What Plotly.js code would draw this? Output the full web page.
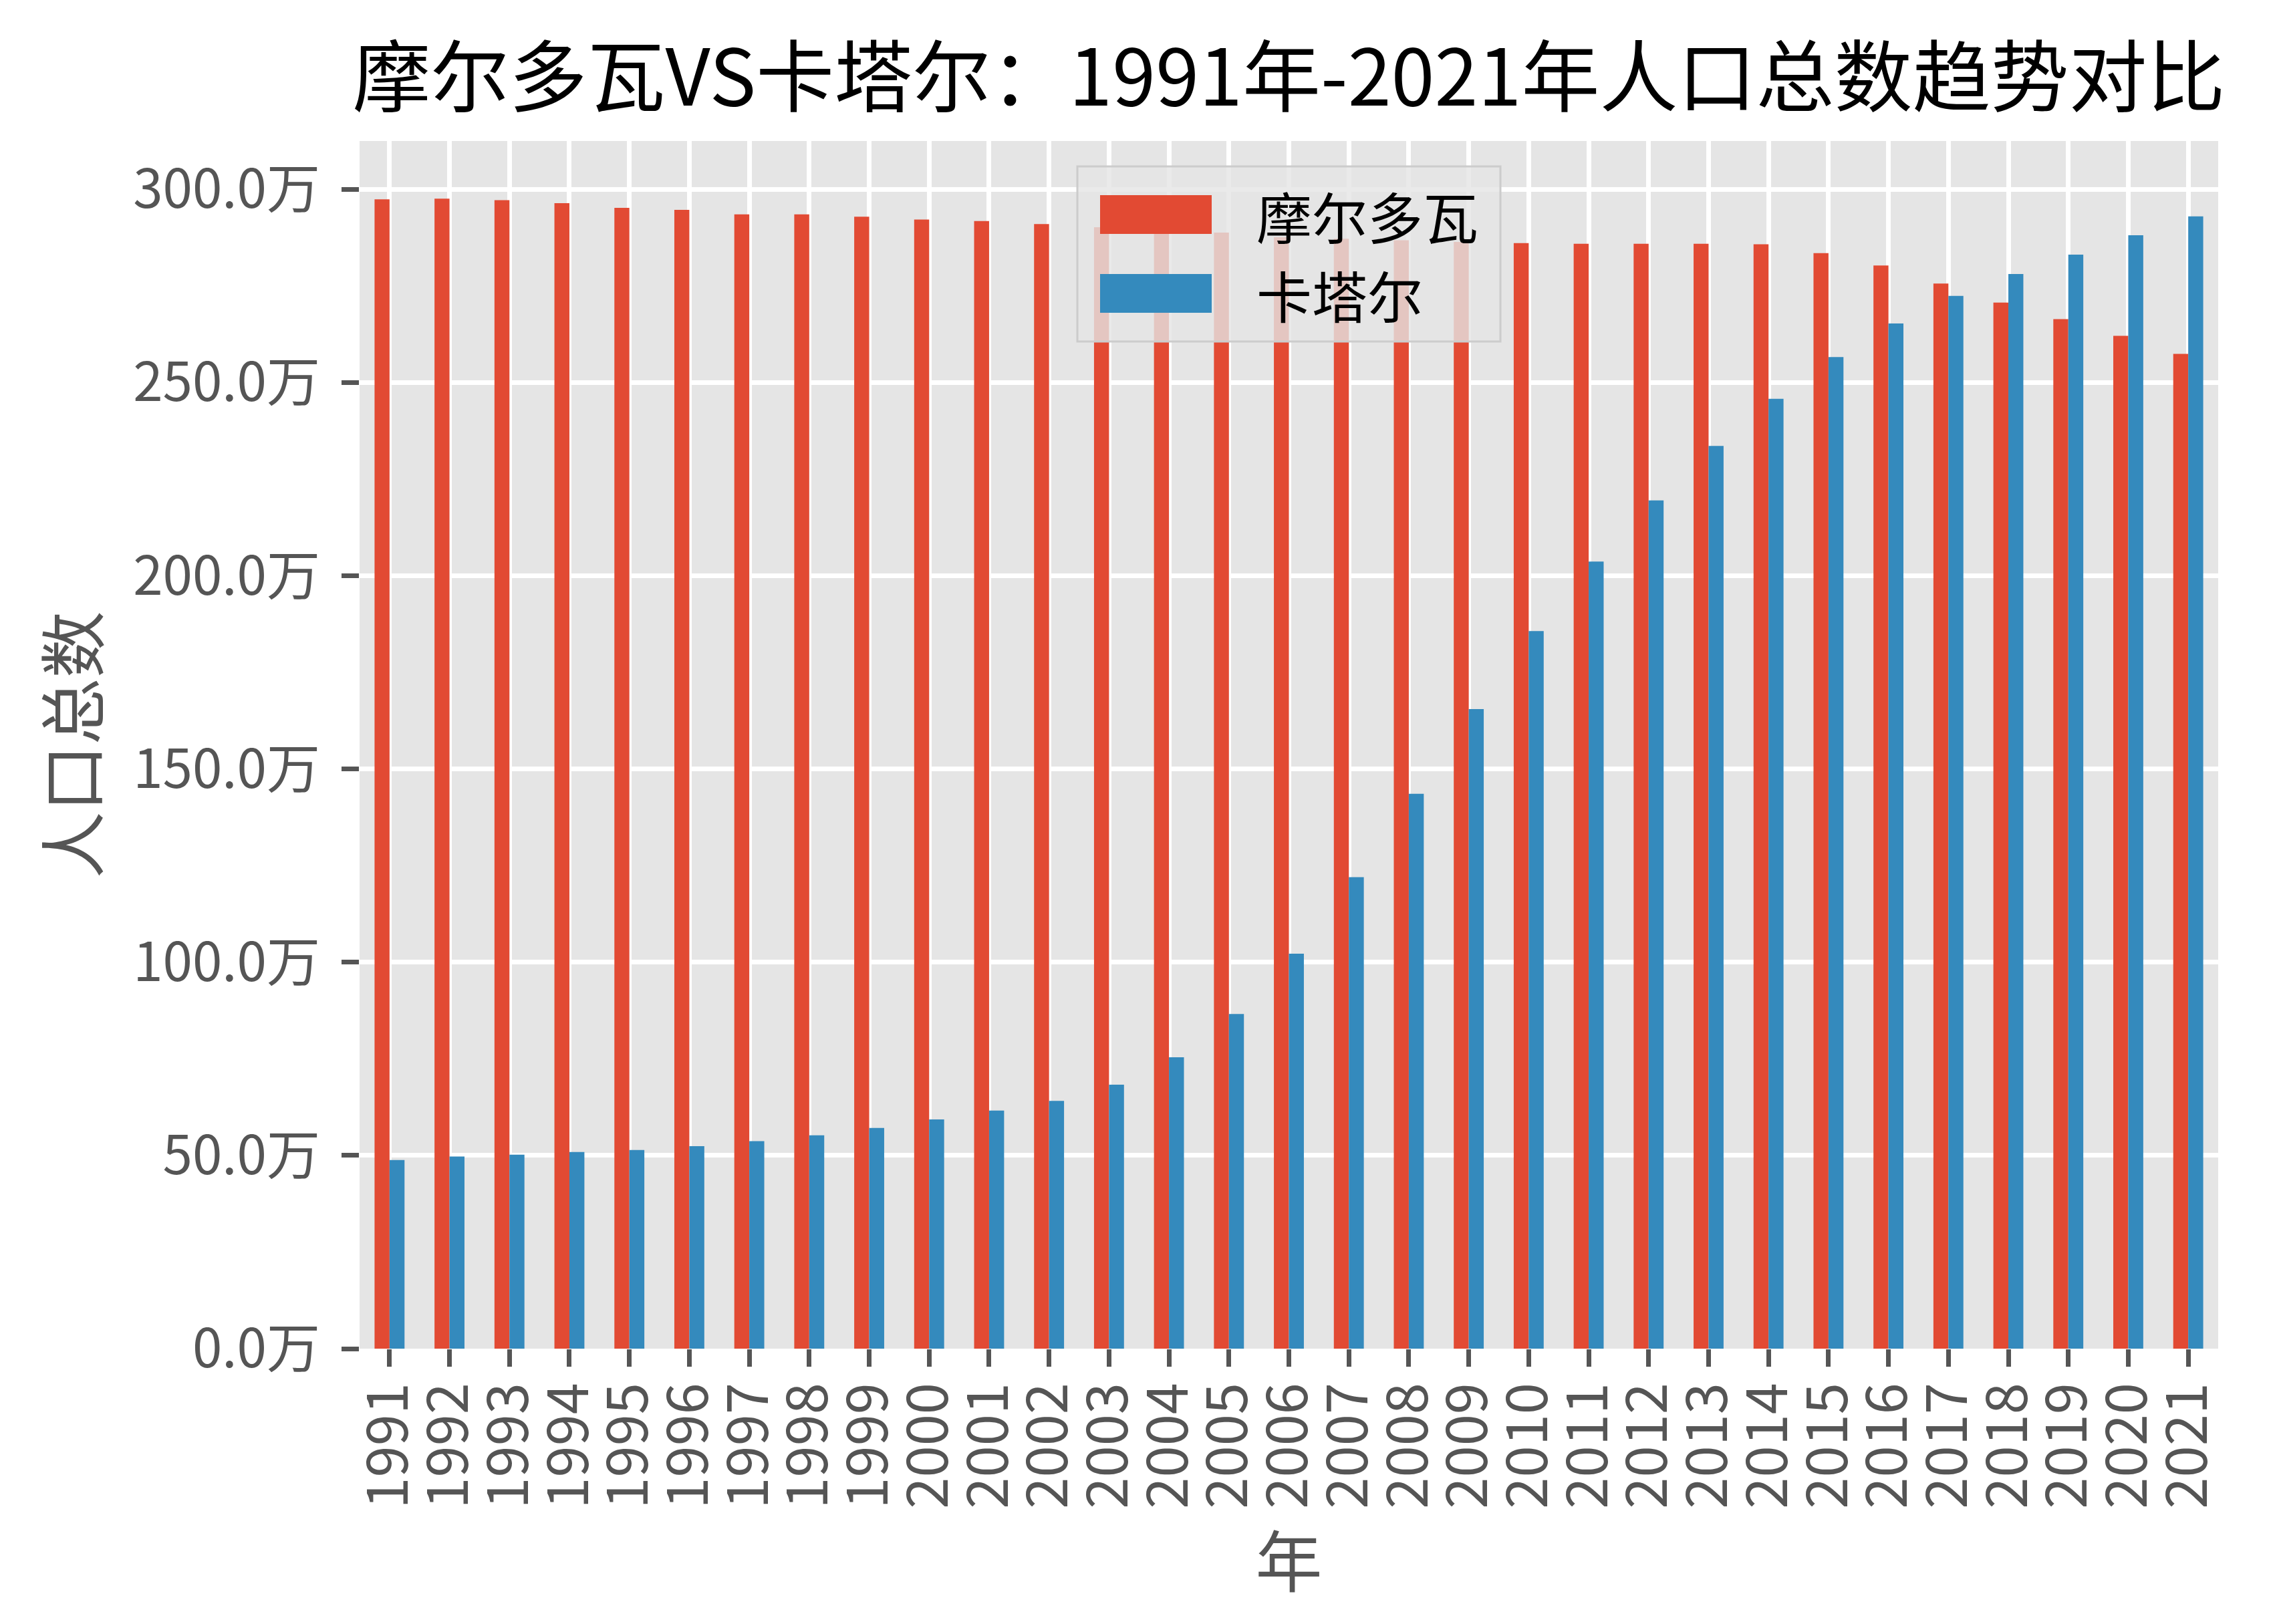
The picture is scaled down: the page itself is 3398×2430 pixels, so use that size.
<!DOCTYPE html>
<html>
<head>
<meta charset="utf-8">
<script src="https://cdn.plot.ly/plotly-3.0.1.min.js"></script>
<style>html,body{margin:0;padding:0;background:#fff;}#chart{width:3398px;height:2430px;}</style>
</head>
<body>
<div id="chart"></div>
<script>
// ---- data (values in 万) ----
const years = ['1991','1992','1993','1994','1995','1996','1997','1998','1999','2000',
  '2001','2002','2003','2004','2005','2006','2007','2008','2009','2010',
  '2011','2012','2013','2014','2015','2016','2017','2018','2019','2020','2021'];
const seriesNames = ['摩尔多瓦', '卡塔尔'];
const moldova = [297.4, 297.6, 297.2, 296.4, 295.2, 294.7, 293.5, 293.5, 292.9, 292.2,
  291.8, 291.0, 290.2, 289.5, 288.8, 287.6, 287.2, 286.8, 286.4, 286.1,
  285.9, 285.9, 285.9, 285.8, 283.5, 280.3, 275.6, 270.7, 266.4, 262.1, 257.4];
const qatar = [48.8, 49.7, 50.2, 50.9, 51.4, 52.4, 53.7, 55.2, 57.1, 59.3,
  61.6, 64.1, 68.3, 75.4, 86.6, 102.2, 122.0, 143.6, 165.5, 185.7,
  203.7, 219.5, 233.6, 245.8, 256.6, 265.3, 272.4, 278.1, 283.1, 288.1, 293.0];
const yTicks = [0, 50, 100, 150, 200, 250, 300];
const yTickText = yTicks.map(v => v.toFixed(1) + '万');
const titleText = '摩尔多瓦VS卡塔尔：1991年-2021年人口总数趋势对比';
const xTitle = '年';
const yTitle = '人口总数';

// ---- style ----
const W = 3398, H = 2430;
const M = {l: 538, r: 79, t: 211, b: 412};
const colors = ['#E24A33', '#348ABD'];
const FONT = '"Noto Sans CJK SC", "Noto Sans", sans-serif';
const pw = W - M.l - M.r, ph = H - M.t - M.b;
const px = x => (x - M.l) / pw;
const py = y => 1 - (y - M.t) / ph;

const traces = [moldova, qatar].map((vals, i) => ({
  type: 'bar', x: years, y: vals, name: seriesNames[i],
  marker: {color: colors[i], line: {width: 0}},
  hoverinfo: 'x+y+name', showlegend: false
}));

// manual legend (matplotlib-like big patches)
const shapes = [
  {type: 'rect', xref: 'paper', yref: 'paper', layer: 'above',
   x0: px(1612), x1: px(2245), y0: py(511), y1: py(249),
   fillcolor: 'rgba(229,229,229,0.8)', line: {color: '#cccccc', width: 3}},
  {type: 'rect', xref: 'paper', yref: 'paper', layer: 'above',
   x0: px(1646), x1: px(1813), y0: py(350), y1: py(292),
   fillcolor: colors[0], line: {width: 0}},
  {type: 'rect', xref: 'paper', yref: 'paper', layer: 'above',
   x0: px(1646), x1: px(1813), y0: py(468), y1: py(410),
   fillcolor: colors[1], line: {width: 0}}
];
const annotations = [
  {xref: 'paper', yref: 'paper', x: px(1878), y: py(322), xanchor: 'left', yanchor: 'middle',
   text: seriesNames[0], showarrow: false, font: {family: FONT, size: 83, color: '#000'}},
  {xref: 'paper', yref: 'paper', x: px(1878), y: py(440), xanchor: 'left', yanchor: 'middle',
   text: seriesNames[1], showarrow: false, font: {family: FONT, size: 83, color: '#000'}}
];

const layout = {
  width: W, height: H,
  margin: M,
  paper_bgcolor: '#ffffff',
  plot_bgcolor: '#E5E5E5',
  font: {family: FONT, color: '#555555'},
  barmode: 'group', bargap: 0.5, bargroupgap: 0,
  showlegend: false,
  title: {text: titleText, font: {family: FONT, size: 117, color: '#000000'},
          x: 0.5, xref: 'paper', y: 1 - 117 / H, yref: 'container', yanchor: 'middle'},
  xaxis: {
    type: 'category', tickangle: -90,
    tickmode: 'array', tickvals: years, ticktext: years,
    showgrid: true, gridcolor: '#ffffff', gridwidth: 6.5,
    ticks: 'outside', ticklen: 26, tickwidth: 6.5, tickcolor: '#555555',
    tickfont: {family: FONT, size: 85, color: '#555555'},
    ticklabelstandoff: -10,
    showline: false, zeroline: false,
    title: {text: xTitle, font: {family: FONT, size: 100, color: '#555555'}, standoff: 4},
    automargin: false
  },
  yaxis: {
    range: [0, 312.5], tickmode: 'array', tickvals: yTicks, ticktext: yTickText,
    showgrid: true, gridcolor: '#ffffff', gridwidth: 6.5,
    ticks: 'outside', ticklen: 26, tickwidth: 6.5, tickcolor: '#555555',
    tickfont: {family: FONT, size: 80, color: '#555555'},
    ticklabelstandoff: 16,
    showline: false, zeroline: false,
    title: {text: yTitle, font: {family: FONT, size: 100, color: '#555555'}, standoff: 18},
    automargin: false
  },
  shapes: shapes,
  annotations: annotations
};

Plotly.newPlot('chart', traces, layout, {displayModeBar: false, responsive: false});
</script>
</body>
</html>
